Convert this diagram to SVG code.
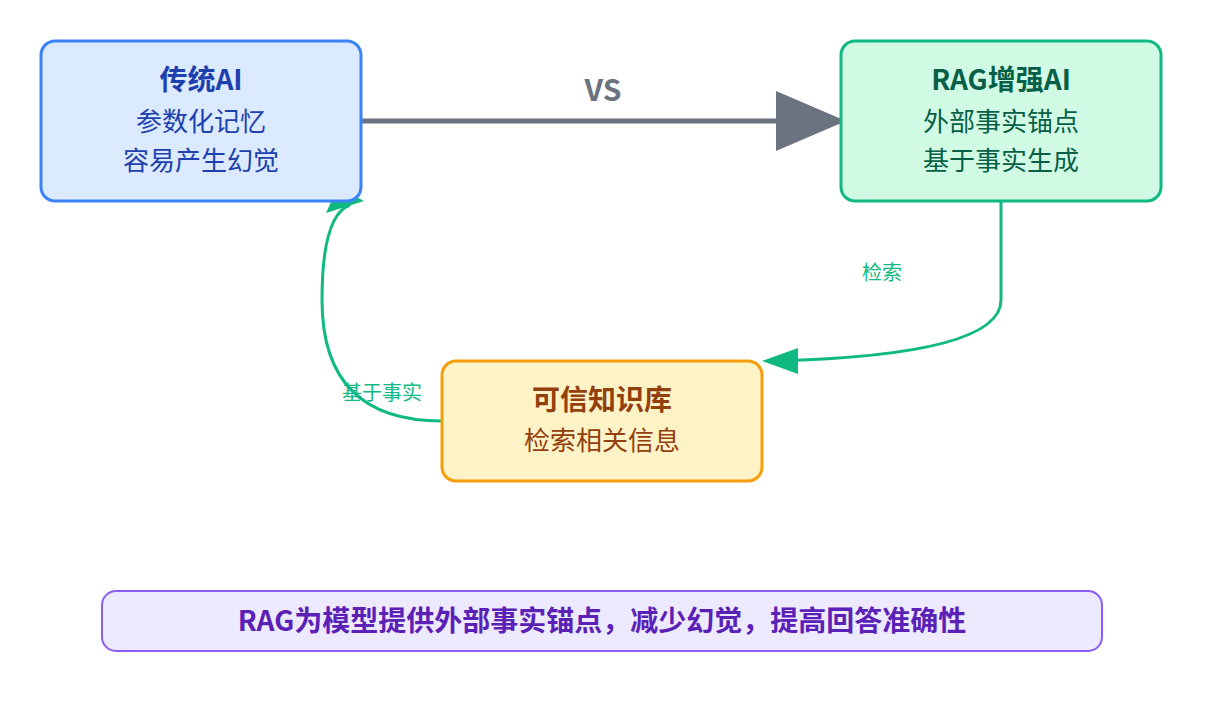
<svg xmlns="http://www.w3.org/2000/svg" width="1208" height="702" viewBox="0 0 1208 702">
<style>
text{font-family:"Noto Sans CJK SC","Liberation Sans",sans-serif;text-anchor:middle}
.t{font-size:28px;font-weight:bold}
.s{font-size:26px}
.l{font-size:20px;fill:#10b981}
</style>
<defs>
<marker id="g" markerWidth="10" markerHeight="10" refX="9" refY="5" orient="auto" markerUnits="userSpaceOnUse" viewBox="0 0 10 10"><path d="M0,0L10,5L0,10z" fill="#10b981"/></marker>
</defs>
<rect width="1208" height="702" fill="#fff"/>
<g id="connectors">
<line x1="361" y1="121" x2="790" y2="121" stroke="#6b7280" stroke-width="5"/>
<path d="M776,91L846,121L776,151z" fill="#6b7280"/>
<path d="M1001,201V300Q1001,355 775,361" fill="none" stroke="#10b981" stroke-width="3"/>
<path d="M798,348L762,361L798,374z" fill="#10b981"/>
<path d="M442,421Q322,421 322,300Q322,215 350,205" fill="none" stroke="#10b981" stroke-width="3"/>
<path d="M326,213L364,201L338,187z" fill="#10b981"/>
<text x="603" y="101" style="font-size:30px;font-weight:bold;fill:#6b7280">VS</text>
<text class="l" x="882" y="280">检索</text>
<text class="l" x="382" y="400">基于事实</text>
</g>
<g id="trad">
<rect x="41" y="41" width="320" height="160" rx="14" fill="#dbeafe" stroke="#3b82f6" stroke-width="3"/>
<text class="t" x="201" y="90" fill="#1e40af">传统AI</text>
<text class="s" x="201" y="131" fill="#1e40af">参数化记忆</text>
<text class="s" x="201" y="170" fill="#1e40af">容易产生幻觉</text>
</g>
<g id="rag">
<rect x="841" y="41" width="320" height="160" rx="14" fill="#d1fae5" stroke="#10b981" stroke-width="3"/>
<text class="t" x="1001" y="90" fill="#065f46">RAG增强AI</text>
<text class="s" x="1001" y="131" fill="#065f46">外部事实锚点</text>
<text class="s" x="1001" y="170" fill="#065f46">基于事实生成</text>
</g>
<g id="kb">
<rect x="442" y="361" width="320" height="120" rx="14" fill="#fef3c7" stroke="#f59e0b" stroke-width="3"/>
<text class="t" x="602" y="410" fill="#92400e">可信知识库</text>
<text class="s" x="602" y="450" fill="#92400e">检索相关信息</text>
</g>
<g id="note">
<rect x="102" y="591" width="1000" height="60" rx="14" fill="#ede9fe" stroke="#8b5cf6" stroke-width="2"/>
<text class="t" x="602" y="631" fill="#5b21b6">RAG为模型提供外部事实锚点，减少幻觉，提高回答准确性</text>
</g>
</svg>
